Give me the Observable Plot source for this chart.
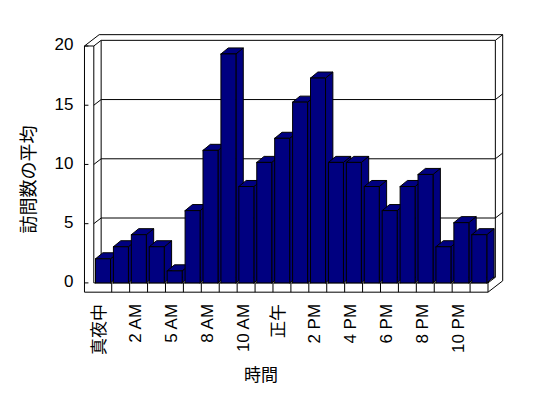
<!DOCTYPE html>
<html><head><meta charset="utf-8">
<script src="https://cdn.jsdelivr.net/npm/d3@7"></script>
<script src="https://cdn.jsdelivr.net/npm/@observablehq/plot@0.6"></script>
<style>body{margin:0;background:#fff;}</style>
</head><body><div id="chart"></div>
<script>
// ---- data ----
const categories = ["真夜中","1 AM","2 AM","3 AM","5 AM","6 AM","8 AM","9 AM","10 AM","11 AM","正午","1 PM","2 PM","3 PM","4 PM","5 PM","6 PM","7 PM","8 PM","9 PM","10 PM","11 PM"];
const visits = [2,3,4,3,1,6,11,19,8,10,12,15,17,10,10,8,6,8,9,3,5,4];
const yTicks = [0,5,10,15,20];
const yTitle = "訪問数の平均";
const xTitle = "時間";

// ---- 3D look parameters (in data units) ----
const n = categories.length;
const D = {dx: 0.41, dy: 0.47};   // wall depth
const B = {dx: 0.41, dy: 0.5};    // bar depth
const P = 0.983;                  // wall perspective factor
const a = 0.095, b = 0.932;       // bar extent inside slot
const wallW = 0.52, floorH = 0.77;
const topY = yTicks[yTicks.length - 1] * P;

// bar faces
const faces = [];
visits.forEach((v, i) => {
  const poly = (f, pts) => pts.concat([pts[0]]).forEach(([x, y]) => faces.push({id: i * 3 + f, x, y}));
  poly(0, [[i + b, 0], [i + b + B.dx, B.dy], [i + b + B.dx, v + B.dy], [i + b, v]]);
  poly(1, [[i + a, v], [i + a + B.dx, v + B.dy], [i + b + B.dx, v + B.dy], [i + b, v]]);
  poly(2, [[i + a, 0], [i + a, v], [i + b, v], [i + b, 0]]);
});

// frame segments
const seg = [];
const L = (x1, y1, x2, y2) => seg.push({x1, y1, x2, y2});
L(-wallW, -floorH, -wallW, topY);
L(0, 0, 0, topY);
L(-wallW, topY, 0, topY);
L(-wallW, topY, -wallW + 2 * D.dx, topY + 2 * D.dy);
L(0, topY, D.dx, topY + D.dy);
L(D.dx, D.dy, D.dx, topY + D.dy);
L(D.dx, topY + D.dy, n + D.dx, topY + D.dy);
L(-wallW + 2 * D.dx, topY + 2 * D.dy, n + 2 * D.dx, topY + 2 * D.dy);
L(n + D.dx, D.dy, n + D.dx, topY + D.dy);
L(n + 2 * D.dx, -floorH + 2 * D.dy, n + 2 * D.dx, topY + 2 * D.dy);
L(n + D.dx, topY + D.dy, n + 2 * D.dx, topY + 2 * D.dy);
L(-wallW, -floorH, n, -floorH);
L(0, 0, n, 0);
L(n, -floorH, n, 0);
L(n, -floorH, n + 2 * D.dx, -floorH + 2 * D.dy);
L(n, 0, n + D.dx, D.dy);
L(D.dx, D.dy, n + D.dx, D.dy);
for (let k = 1; k < n; k++) L(k, -floorH, k, 0);
yTicks.slice(1, -1).forEach(v => {
  const y = v * P;
  L(0, y, D.dx, y + D.dy);
  L(D.dx, y + D.dy, n + D.dx, y + D.dy);
  L(n + D.dx, y + D.dy, n + 2 * D.dx, y + 2 * D.dy);
});
yTicks.forEach(v => L(-wallW, v * P, -wallW + 0.22, v * P));

const labelIdx = categories.map((c, i) => i).filter(i => i % 2 === 0);
const font = "'Liberation Sans', 'Noto Sans CJK JP', sans-serif";

const chart = Plot.plot({
  width: 548, height: 398,
  marginLeft: 93.3, marginRight: 60.5, marginTop: 41.4, marginBottom: 115.6,
  x: {domain: [0, n], axis: null},
  y: {domain: [0, 20], axis: null},
  style: {fontFamily: font, fontSize: "17px", background: "white", color: "black"},
  marks: [
    Plot.link(seg, {x1: "x1", y1: "y1", x2: "x2", y2: "y2", stroke: "black", strokeWidth: 1}),
    Plot.line(faces, {x: "x", y: "y", z: "id", fill: "#000080", stroke: "black", strokeWidth: 1, strokeLinejoin: "miter"}),
    Plot.text(yTicks, {x: -wallW, y: v => v * P, text: d => String(d), textAnchor: "end", dx: -11, dy: -1, fontSize: 17}),
    Plot.text(labelIdx, {x: i => i + 0.5, y: 0, text: i => categories[i], rotate: -90, textAnchor: "end", dx: -3, dy: 21, fontSize: 17, fill: "black"}),
    Plot.text([xTitle], {frameAnchor: "bottom", text: d => d, textAnchor: "middle", lineAnchor: "middle", dx: -30, dy: 93, fontSize: 17}),
    Plot.text([yTitle], {frameAnchor: "left", text: d => d, rotate: -90, textAnchor: "middle", lineAnchor: "middle", dx: -65, dy: 17, fontSize: 18})
  ]
});
document.getElementById("chart").appendChild(chart);
</script>
</body></html>
